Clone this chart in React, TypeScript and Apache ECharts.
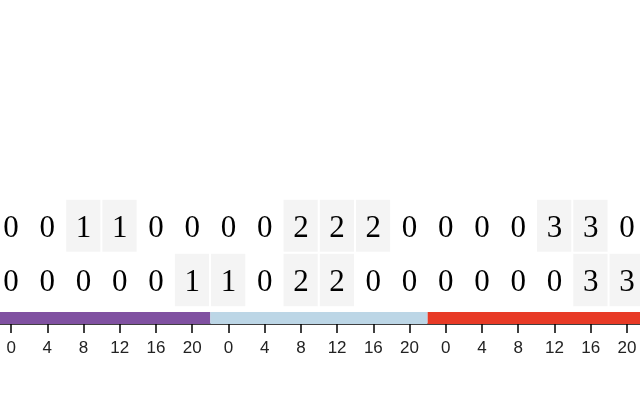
import React, { useEffect, useRef } from "react";
import * as echarts from "echarts";

const days = ["Day 1", "Day 2", "Day 3"];
const dayColors = ["#8051a1", "#bcd6e6", "#e83a26"];
const hours = [0, 4, 8, 12, 16, 20];
const rows = ["A", "B"];
const rowA = [0, 0, 1, 1, 0, 0, 0, 0, 2, 2, 2, 0, 0, 0, 0, 3, 3, 0];
const rowB = [0, 0, 0, 0, 0, 1, 1, 0, 2, 2, 0, 0, 0, 0, 0, 0, 3, 3];

export default function App() {
  const ref = useRef<HTMLDivElement>(null);
  useEffect(() => {
    if (!ref.current) return;
    const chart = echarts.init(ref.current, null, { renderer: "svg" });
    const categories: string[] = [];
    days.forEach((d, di) => hours.forEach((h) => categories.push(di + "-" + h)));
    const values = [rowA, rowB];
    const heat: any[] = [];
    values.forEach((row, ri) => row.forEach((v, ci) => heat.push([ci, ri, v])));
    const bands = days.map((d, di) => [di * hours.length, (di + 1) * hours.length - 1, di]);

    chart.setOption({
      animation: false,
      grid: [
        { left: 0, right: 0, top: 199, height: 108 },
        { left: 0, right: 0, top: 312, height: 12 },
      ],
      visualMap: {
        type: "piecewise",
        show: false,
        seriesIndex: 0,
        dimension: 2,
        pieces: [
          { value: 0, color: "rgba(255,255,255,0)" },
          { gt: 0, color: "#f4f4f4" },
        ],
      },
      xAxis: [
        {
          gridIndex: 0,
          type: "category",
          data: categories,
          show: false,
        },
        {
          gridIndex: 1,
          type: "category",
          data: categories,
          position: "bottom",
          axisLine: { show: true, lineStyle: { color: "#000", width: 1.5 } },
          axisTick: { show: true, alignWithLabel: true, length: 9, lineStyle: { color: "#000", width: 1.5 } },
          axisLabel: {
            interval: 0,
            margin: 15,
            fontSize: 17,
            fontFamily: "Liberation Sans",
            color: "#222",
            formatter: (val: string) => val.split("-")[1],
          },
          splitLine: { show: false },
        },
      ],
      yAxis: [
        { gridIndex: 0, type: "category", data: rows, inverse: true, show: false },
        { gridIndex: 1, type: "value", min: 0, max: 1, show: false },
      ],
      series: [
        {
          type: "heatmap",
          xAxisIndex: 0,
          yAxisIndex: 0,
          data: heat,
          itemStyle: { borderColor: "#fff", borderWidth: 2 },
          label: {
            show: true,
            fontFamily: "Liberation Serif",
            fontSize: 31,
            color: "#000",
            formatter: (p: any) => String(p.value[2]),
          },
          emphasis: { disabled: true },
        },
        {
          type: "custom",
          xAxisIndex: 1,
          yAxisIndex: 1,
          data: bands,
          renderItem: (params: any, api: any) => {
            const s = api.value(0);
            const e = api.value(1);
            const di = api.value(2);
            const w = api.size([1, 0])[0];
            const p0 = api.coord([s, 1]);
            const p1 = api.coord([e, 0]);
            return {
              type: "rect",
              shape: {
                x: p0[0] - w / 2,
                y: p0[1],
                width: p1[0] + w / 2 - (p0[0] - w / 2),
                height: p1[1] - p0[1],
              },
              style: { fill: dayColors[di] },
            };
          },
        },
      ],
    });
    return () => chart.dispose();
  }, []);
  return (
    <div style={{ position: "fixed", left: 0, top: 0, width: 640, height: 400, overflow: "hidden" }}>
      <div
        ref={ref}
        style={{ position: "absolute", left: -7, top: 0, width: 652, height: 400 }}
      />
    </div>
  );
}
